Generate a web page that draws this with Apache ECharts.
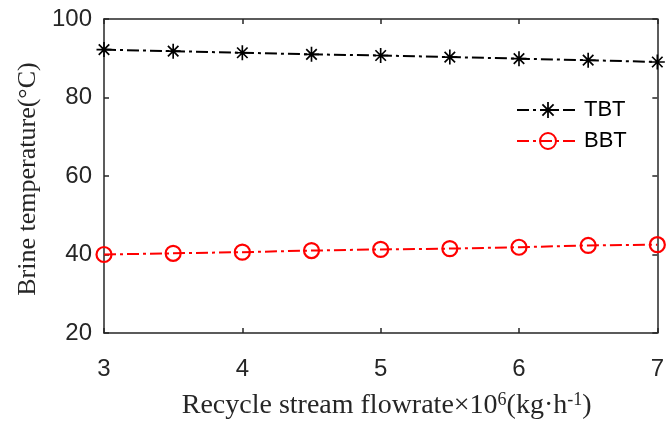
<!DOCTYPE html>
<html>
<head>
<meta charset="utf-8">
<script src="https://cdn.jsdelivr.net/npm/echarts@6/dist/echarts.min.js"></script>
<style>
  html, body { margin: 0; padding: 0; background: #fff; }
  #chart { width: 667px; height: 425px; }
</style>
</head>
<body>
<div id="chart"></div>
<script>
// 數據
const flowrates = [3, 3.5, 4, 4.5, 5, 5.5, 6, 6.5, 7]
const tbtValues = [92.2, 91.8, 91.4, 91.0, 90.7, 90.3, 89.9, 89.5, 89.05]
const bbtValues = [40.0, 40.3, 40.6, 41.0, 41.3, 41.5, 41.85, 42.3, 42.5]
const xTicks = [3, 4, 5, 6, 7]
const yTicks = [20, 40, 60, 80, 100]

const axisColor = '#262626'
const asterisk = 'path://M8.9 0L11.1 0L11.1 20L8.9 20Z M0 8.9L20 8.9L20 11.1L0 11.1Z M2.2 3.8L3.8 2.2L17.8 16.2L16.2 17.8Z M16.2 2.2L17.8 3.8L3.8 17.8L2.2 16.2Z'
const dashDot = [12, 4, 3, 4]

const chart = echarts.init(document.getElementById('chart'))

const baseX = {
  type: 'value',
  min: xTicks[0],
  max: xTicks[xTicks.length - 1],
  interval: 1,
  splitLine: { show: false },
  axisLine: { lineStyle: { color: axisColor, width: 1.5 } },
  axisTick: { inside: true, length: 5, lineStyle: { color: axisColor, width: 1.5 } }
}
const baseY = {
  type: 'value',
  min: yTicks[0],
  max: yTicks[yTicks.length - 1],
  interval: 20,
  splitLine: { show: false },
  axisLine: { lineStyle: { color: axisColor, width: 1.5 } },
  axisTick: { inside: true, length: 5, lineStyle: { color: axisColor, width: 1.5 } }
}

const option = {
  backgroundColor: '#fff',
  animation: false,
  grid: { left: 104, right: 5, top: 19, bottom: 87 },
  legend: {
    orient: 'vertical',
    left: 511,
    top: 94,
    itemWidth: 62,
    itemHeight: 20,
    itemGap: 9,
    textStyle: { fontFamily: 'Liberation Sans', fontSize: 22, color: '#000' },
    data: ['TBT', 'BBT']
  },
  xAxis: [
    {
      ...baseX,
      position: 'bottom',
      axisLabel: { fontFamily: 'Liberation Sans', fontSize: 24, color: '#262626', margin: 24 },
      name: 'Recycle stream flowrate×10{sup|6}(kg·h{sup|-1})',
      nameLocation: 'middle',
      nameGap: 58,
      nameTextStyle: {
        fontFamily: 'Liberation Serif',
        fontSize: 28,
        color: '#262626',
        padding: [0, 0, 0, 12],
        rich: {
          sup: { fontFamily: 'Liberation Serif', fontSize: 18, color: '#262626', verticalAlign: 'top', padding: [0, 0, 12, 0] }
        }
      }
    },
    { ...baseX, position: 'top', axisLabel: { show: false } }
  ],
  yAxis: [
    {
      ...baseY,
      position: 'left',
      axisLabel: { fontFamily: 'Liberation Sans', fontSize: 24, color: '#262626', margin: 12 },
      name: 'Brine temperature(°C)',
      nameLocation: 'middle',
      nameGap: 61,
      nameTextStyle: { fontFamily: 'Liberation Serif', fontSize: 26, color: '#262626', padding: [0, 6, 0, 0] }
    },
    { ...baseY, position: 'right', axisLabel: { show: false } }
  ],
  series: [
    {
      name: 'TBT',
      type: 'line',
      data: flowrates.map((x, i) => [x, tbtValues[i]]),
      symbol: asterisk,
      symbolSize: 15,
      showAllSymbol: true,
      itemStyle: { color: '#000' },
      lineStyle: { color: '#000', width: 2, type: dashDot },
      clip: false
    },
    {
      name: 'BBT',
      type: 'line',
      data: flowrates.map((x, i) => [x, bbtValues[i]]),
      symbol: 'circle',
      symbolSize: 15,
      showAllSymbol: true,
      itemStyle: { color: 'rgba(255,255,255,0)', borderColor: '#ff0000', borderWidth: 2.2 },
      lineStyle: { color: '#ff0000', width: 2, type: dashDot },
      clip: false
    }
  ]
}

chart.setOption(option)
</script>
</body>
</html>
